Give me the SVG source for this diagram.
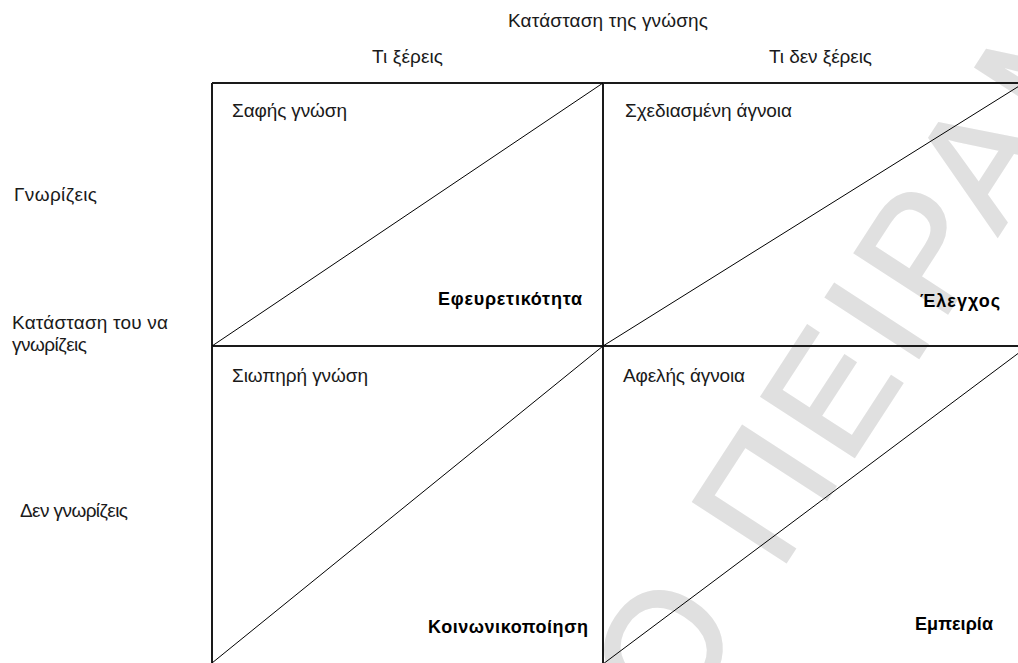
<svg xmlns="http://www.w3.org/2000/svg" width="1018" height="663" viewBox="0 0 1018 663">
<style>
.lbl{font-family:"Liberation Sans",Arial,sans-serif;font-size:19px;fill:#1a1a1a}
.bold{font-family:"Liberation Sans",Arial,sans-serif;font-size:18px;font-weight:bold;fill:#000}
.grid{stroke:#1a1a1a;stroke-width:2;fill:none}
.diag{stroke:#000;stroke-width:1;fill:none}
.wm{font-family:"Liberation Sans",Arial,sans-serif;font-size:160px;fill:#e0e0e0;stroke:#e0e0e0;stroke-width:3;letter-spacing:10px}
</style>
<rect width="1018" height="663" fill="#fff"/>
<g id="watermark">
<text class="wm" transform="translate(676,731) rotate(-57)">Ο ΠΕΙΡΑΜ</text>
</g>
<g id="connectors">
<line class="grid" x1="212" y1="83" x2="1018" y2="83"/>
<line class="grid" x1="212" y1="346" x2="1018" y2="346"/>
<line class="grid" x1="212" y1="83" x2="212" y2="663"/>
<line class="grid" x1="603" y1="83" x2="603" y2="663"/>
<line class="diag" x1="212" y1="346" x2="603" y2="83"/>
<line class="diag" x1="603" y1="346" x2="1024" y2="83"/>
<line class="diag" x1="212" y1="663" x2="603" y2="346"/>
<line class="diag" x1="603" y1="664" x2="1024" y2="349"/>
</g>
<g id="headers">
<text class="lbl" x="508" y="27" textLength="200" lengthAdjust="spacing">Κατάσταση της γνώσης</text>
<text class="lbl" x="372" y="63" textLength="71" lengthAdjust="spacing">Τι ξέρεις</text>
<text class="lbl" x="769" y="63" textLength="103" lengthAdjust="spacing">Τι δεν ξέρεις</text>
<text class="lbl" x="14" y="201" textLength="83" lengthAdjust="spacing">Γνωρίζεις</text>
<text class="lbl" x="12" y="329" textLength="156" lengthAdjust="spacing">Κατάσταση του να</text>
<text class="lbl" x="12" y="351" textLength="75" lengthAdjust="spacing">γνωρίζεις</text>
<text class="lbl" x="20" y="517" textLength="108" lengthAdjust="spacing">Δεν γνωρίζεις</text>
</g>
<g id="cell-tl">
<text class="lbl" x="232" y="117" textLength="115" lengthAdjust="spacing">Σαφής γνώση</text>
<text class="bold" x="438" y="305" textLength="144" lengthAdjust="spacing">Εφευρετικότητα</text>
</g>
<g id="cell-tr">
<text class="lbl" x="625" y="117" textLength="167" lengthAdjust="spacing">Σχεδιασμένη άγνοια</text>
<text class="bold" x="920" y="307" textLength="80" lengthAdjust="spacing">Έλεγχος</text>
</g>
<g id="cell-bl">
<text class="lbl" x="232" y="382" textLength="136" lengthAdjust="spacing">Σιωπηρή γνώση</text>
<text class="bold" x="428" y="633" textLength="160" lengthAdjust="spacing">Κοινωνικοποίηση</text>
</g>
<g id="cell-br">
<text class="lbl" x="623" y="382" textLength="122" lengthAdjust="spacing">Αφελής άγνοια</text>
<text class="bold" x="915" y="630" textLength="78" lengthAdjust="spacing">Εμπειρία</text>
</g>
</svg>
